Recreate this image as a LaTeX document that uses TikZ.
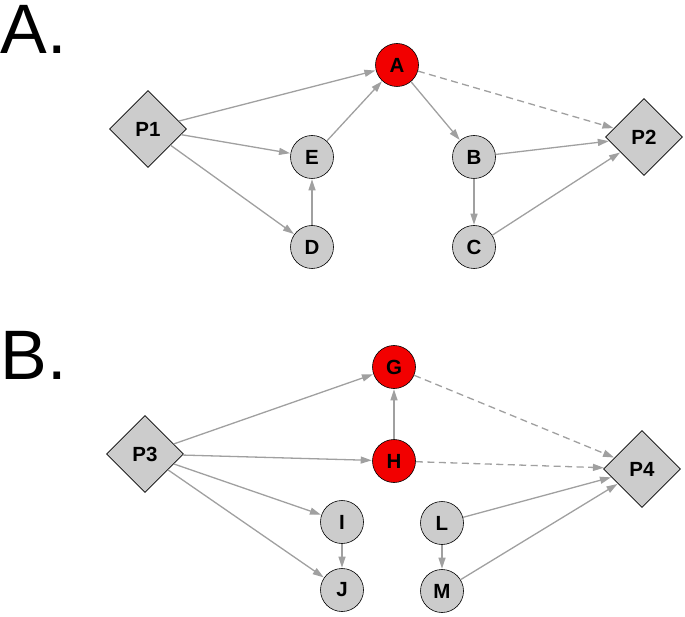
\documentclass[tikz,border=0pt]{standalone}
\usepackage{fontspec}
\setmainfont{Liberation Sans}
\usetikzlibrary{shapes.geometric,arrows.meta}
\definecolor{nodegray}{HTML}{CCCCCC}
\definecolor{edgegray}{HTML}{A0A0A0}
\definecolor{hitred}{HTML}{F20000}
\begin{document}
\begin{tikzpicture}[x=1pt,y=-1pt,
  gene/.style={circle,draw=black,line width=0.6pt,fill=nodegray,minimum size=43pt,inner sep=0pt,font=\fontsize{20.5}{20.5}\selectfont\bfseries},
  hit/.style={gene,fill=hitred},
  pheno/.style={diamond,aspect=1,draw=black,line width=0.6pt,fill=nodegray,minimum width=77pt,minimum height=77pt,inner sep=0pt,font=\fontsize{20.5}{20.5}\selectfont\bfseries},
  edge/.style={draw=edgegray,line width=1.3pt,-{Triangle[length=11pt,width=7pt]},shorten >=0.5pt},
  dedge/.style={edge,dash pattern=on 7pt off 4.5pt},
  panel/.style={anchor=base west,inner sep=0pt,font=\fontsize{70}{70}\selectfont}]
\useasboundingbox (0,0) rectangle (685,617);
% panel labels
\node[panel] (labA) at (0.5,54) {A.};
\node[panel] (labB) at (0.5,379) {B.};
% panel A nodes
\node[hit] (A) at (397,65) {A};
\node[gene] (E) at (312,157) {E};
\node[gene] (D) at (312,247) {D};
\node[gene] (B) at (474,157) {B};
\node[gene] (C) at (474,247) {C};
\node[pheno] (P1) at (148,129) {P1};
\node[pheno] (P2) at (644,137) {P2};
% panel A edges
\draw[edge] (P1) -- (A);
\draw[edge] (P1) -- (E);
\draw[edge] (P1) -- (D);
\draw[edge] (D) -- (E);
\draw[edge] (E) -- (A);
\draw[edge] (A) -- (B);
\draw[edge] (B) -- (C);
\draw[edge] (B) -- (P2);
\draw[edge] (C) -- (P2);
\draw[dedge] (A) -- (P2);
% panel B nodes
\node[hit] (G) at (394,367) {G};
\node[hit] (H) at (394,461) {H};
\node[gene] (I) at (342,522) {I};
\node[gene] (J) at (342,590) {J};
\node[gene] (L) at (442,523) {L};
\node[gene] (M) at (442,591) {M};
\node[pheno] (P3) at (145,454) {P3};
\node[pheno] (P4) at (642,469) {P4};
% panel B edges
\draw[edge] (P3) -- (G);
\draw[edge] (P3) -- (H);
\draw[edge] (P3) -- (I);
\draw[edge] (P3) -- (J);
\draw[edge] (H) -- (G);
\draw[edge] (I) -- (J);
\draw[edge] (L) -- (M);
\draw[edge] (L) -- (P4);
\draw[edge] (M) -- (P4);
\draw[dedge] (G) -- (P4);
\draw[dedge] (H) -- (P4);
\end{tikzpicture}
\end{document}
